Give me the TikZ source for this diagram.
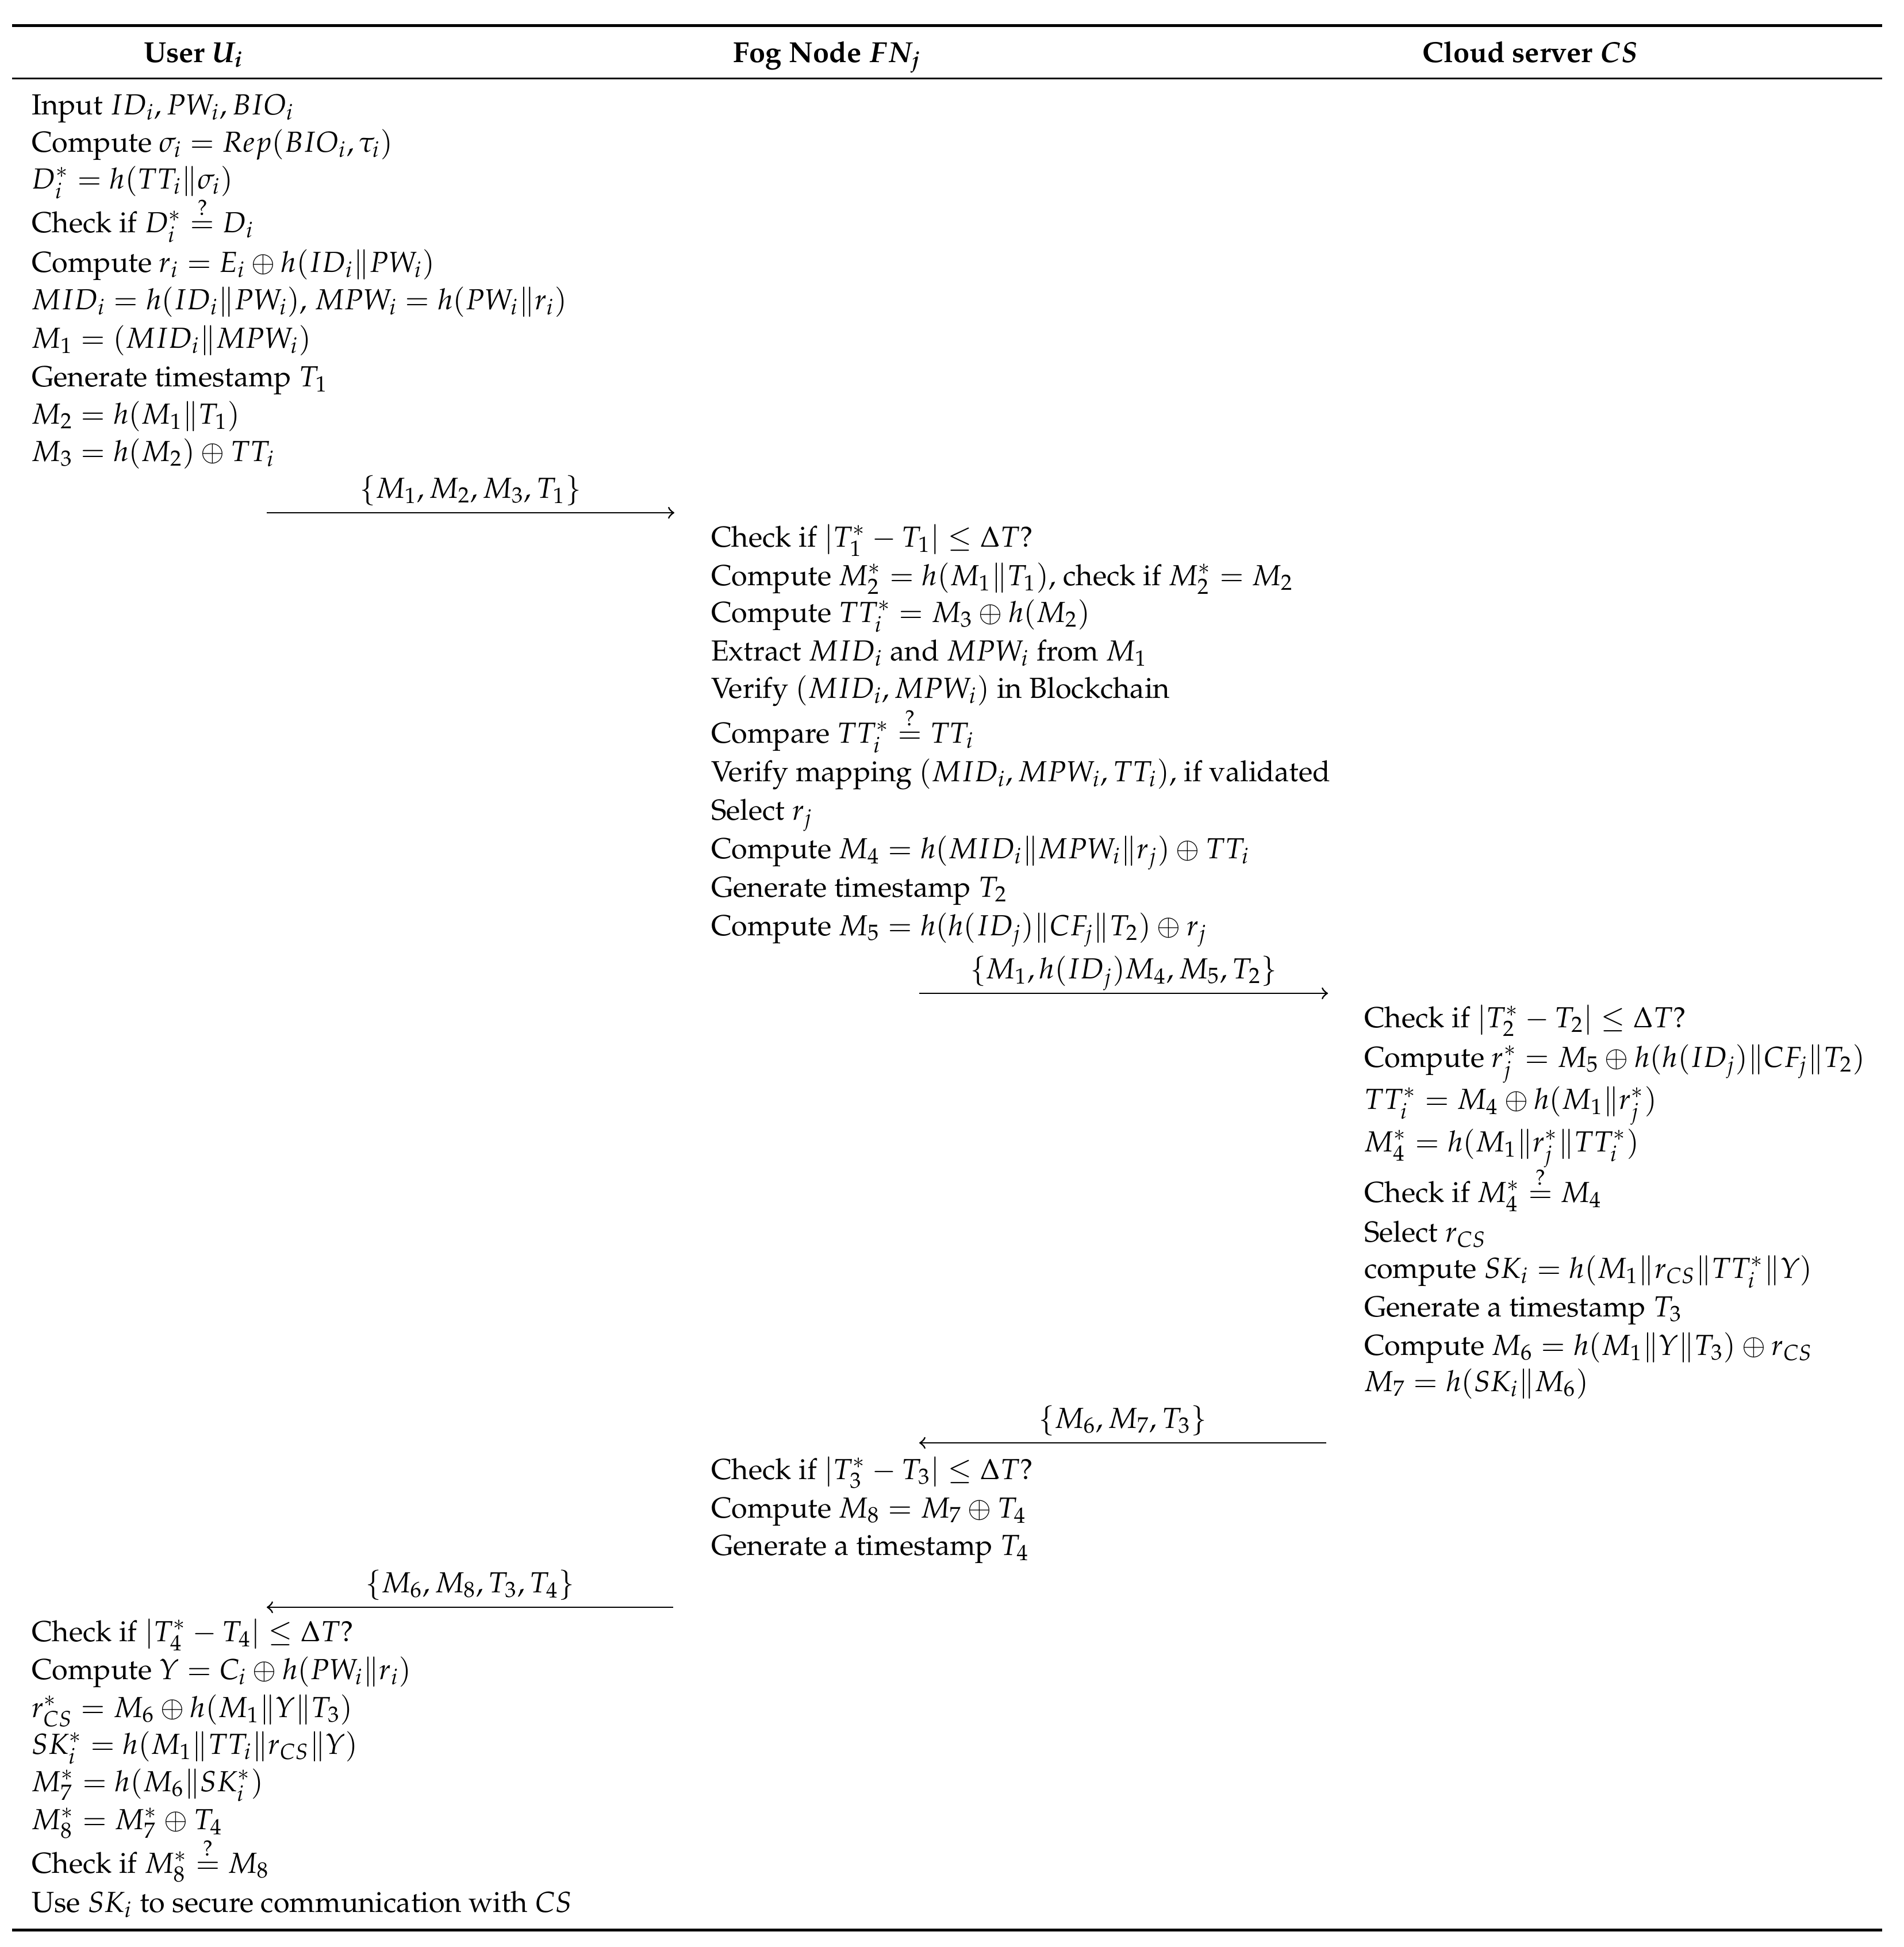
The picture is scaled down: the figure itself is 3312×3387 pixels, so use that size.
\documentclass[tikz,border=0pt]{standalone}
\usepackage[T1]{fontenc}
\usepackage{mathpazo}
\usepackage{amsmath}
\begin{document}
\begin{tikzpicture}[x={(0.1927pt,0)},y={(0,-0.1927pt)},
  txt/.style={anchor=base west,inner sep=0pt,font=\fontsize{9.72}{11.7}\selectfont},
  hdr/.style={anchor=base,inner sep=0pt,font=\fontsize{9.72}{11.7}\selectfont\bfseries\boldmath},
  msg/.style={->,line width=0.55pt},
  lbl/.style={midway,anchor=base,yshift=5pt,inner sep=0pt,font=\fontsize{9.72}{11.7}\selectfont},
  toprulestyle/.style={line width=0.96pt},
  midrulestyle/.style={line width=0.58pt}]
\useasboundingbox (0,0) rectangle (3312,3387);
% rules
\draw[toprulestyle] (21,44.5) -- (3274,44.5);
\draw[midrulestyle] (21,136.5) -- (3274,136.5);
\draw[toprulestyle] (21,3357) -- (3274,3357);
% headers
\node[hdr] (hU) at (337,108) {User $U_i$};
\node[hdr] (hF) at (1439,108) {Fog Node $FN_j$};
\node[hdr] (hC) at (2662,108) {Cloud server $CS$};
% user part 1
\node[txt] (u1) at (54,199) {Input $ID_i, PW_i, BIO_i$};
\node[txt] (u2) at (54,264) {Compute $\sigma_i = Rep(BIO_i, \tau_i)$};
\node[txt] (u3) at (54,328) {$D_i^* = h(TT_i \| \sigma_i)$};
\node[txt] (u4) at (54,404) {Check if $D_i^* \stackrel{?}{=} D_i$};
\node[txt] (u5) at (54,473) {Compute $r_i = E_i \oplus h(ID_i \| PW_i)$};
\node[txt] (u6) at (54,538) {$MID_i = h(ID_i\|PW_i)$, $MPW_i = h(PW_i\|r_i)$};
\node[txt] (u7) at (54,605) {$M_1 = (MID_i\|MPW_i)$};
\node[txt] (u8) at (54,672) {Generate timestamp $T_1$};
\node[txt] (u9) at (54,737) {$M_2 = h(M_1\|T_1)$};
\node[txt] (u10) at (54,802) {$M_3 = h(M_2)\oplus TT_i$};
% arrow 1
\coordinate (a1s) at (464,892);
\coordinate (a1e) at (1173,892);
\draw[msg] (a1s) -- node[lbl] (l1) {$\{M_1, M_2, M_3, T_1\}$} (a1e);
% fog part 1
\node[txt] (f1) at (1236,951) {Check if $|T_1^* - T_1| \le \Delta T$?};
\node[txt] (f2) at (1236,1018) {Compute $M_2^* = h(M_1\|T_1)$, check if $M_2^* = M_2$};
\node[txt] (f3) at (1236,1082) {Compute $TT_i^* = M_3 \oplus h(M_2)$};
\node[txt] (f4) at (1236,1149) {Extract $MID_i$ and $MPW_i$ from $M_1$};
\node[txt] (f5) at (1236,1214) {Verify $(MID_i, MPW_i)$ in Blockchain};
\node[txt] (f6) at (1236,1292) {Compare $TT_i^* \stackrel{?}{=} TT_i$};
\node[txt] (f7) at (1236,1359) {Verify mapping $(MID_i, MPW_i, TT_i)$, if validated};
\node[txt] (f8) at (1236,1426) {Select $r_j$};
\node[txt] (f9) at (1236,1493) {Compute $M_4 = h(MID_i\|MPW_i\|r_j)\oplus TT_i$};
\node[txt] (f10) at (1236,1560) {Generate timestamp $T_2$};
\node[txt] (f11) at (1236,1627) {Compute $M_5 = h(h(ID_j)\|CF_j\|T_2)\oplus r_j$};
% arrow 2
\coordinate (a2s) at (1599,1728);
\coordinate (a2e) at (2310,1728);
\draw[msg] (a2s) -- node[lbl] (l2) {$\{M_1, h(ID_j) M_4, M_5, T_2\}$} (a2e);
% cloud
\node[txt] (c1) at (2372,1787) {Check if $|T_2^* - T_2| \le \Delta T$?};
\node[txt] (c2) at (2372,1856) {Compute $r_j^* = M_5 \oplus h(h(ID_j)\|CF_j\|T_2)$};
\node[txt] (c3) at (2372,1929) {$TT_i^* = M_4 \oplus h(M_1\|r_j^*)$};
\node[txt] (c4) at (2372,2003) {$M_4^* = h(M_1\|r_j^*\|TT_i^*)$};
\node[txt] (c5) at (2372,2091) {Check if $M_4^* \stackrel{?}{=} M_4$};
\node[txt] (c6) at (2372,2160) {Select $r_{CS}$};
\node[txt] (c7) at (2372,2223) {compute $SK_i = h(M_1\|r_{CS}\|TT_i^*\|Y)$};
\node[txt] (c8) at (2372,2290) {Generate a timestamp $T_3$};
\node[txt] (c9) at (2372,2357) {Compute $M_6 = h(M_1\|Y\|T_3)\oplus r_{CS}$};
\node[txt] (c10) at (2372,2420) {$M_7 = h(SK_i\|M_6)$};
% arrow 3
\coordinate (a3s) at (2307,2510);
\coordinate (a3e) at (1599,2510);
\draw[msg] (a3s) -- node[lbl] (l3) {$\{M_6, M_7, T_3\}$} (a3e);
% fog part 2
\node[txt] (g1) at (1236,2573) {Check if $|T_3^* - T_3| \le \Delta T$?};
\node[txt] (g2) at (1236,2640) {Compute $M_8 = M_7 \oplus T_4$};
\node[txt] (g3) at (1236,2705) {Generate a timestamp $T_4$};
% arrow 4
\coordinate (a4s) at (1171,2796);
\coordinate (a4e) at (464,2796);
\draw[msg] (a4s) -- node[lbl] (l4) {$\{M_6, M_8, T_3, T_4\}$} (a4e);
% user part 2
\node[txt] (v1) at (54,2855) {Check if $|T_4^* - T_4| \le \Delta T$?};
\node[txt] (v2) at (54,2921) {Compute $Y = C_i \oplus h(PW_i\|r_i)$};
\node[txt] (v3) at (54,2987) {$r_{CS}^* = M_6 \oplus h(M_1\|Y\|T_3)$};
\node[txt] (v4) at (54,3051) {$SK_i^* = h(M_1\|TT_i\|r_{CS}\|Y)$};
\node[txt] (v5) at (54,3116) {$M_7^* = h(M_6\|SK_i^*)$};
\node[txt] (v6) at (54,3182) {$M_8^* = M_7^* \oplus T_4$};
\node[txt] (v7) at (54,3258) {Check if $M_8^* \stackrel{?}{=} M_8$};
\node[txt] (v8) at (54,3326) {Use $SK_i$ to secure communication with $CS$};
\end{tikzpicture}
\end{document}
